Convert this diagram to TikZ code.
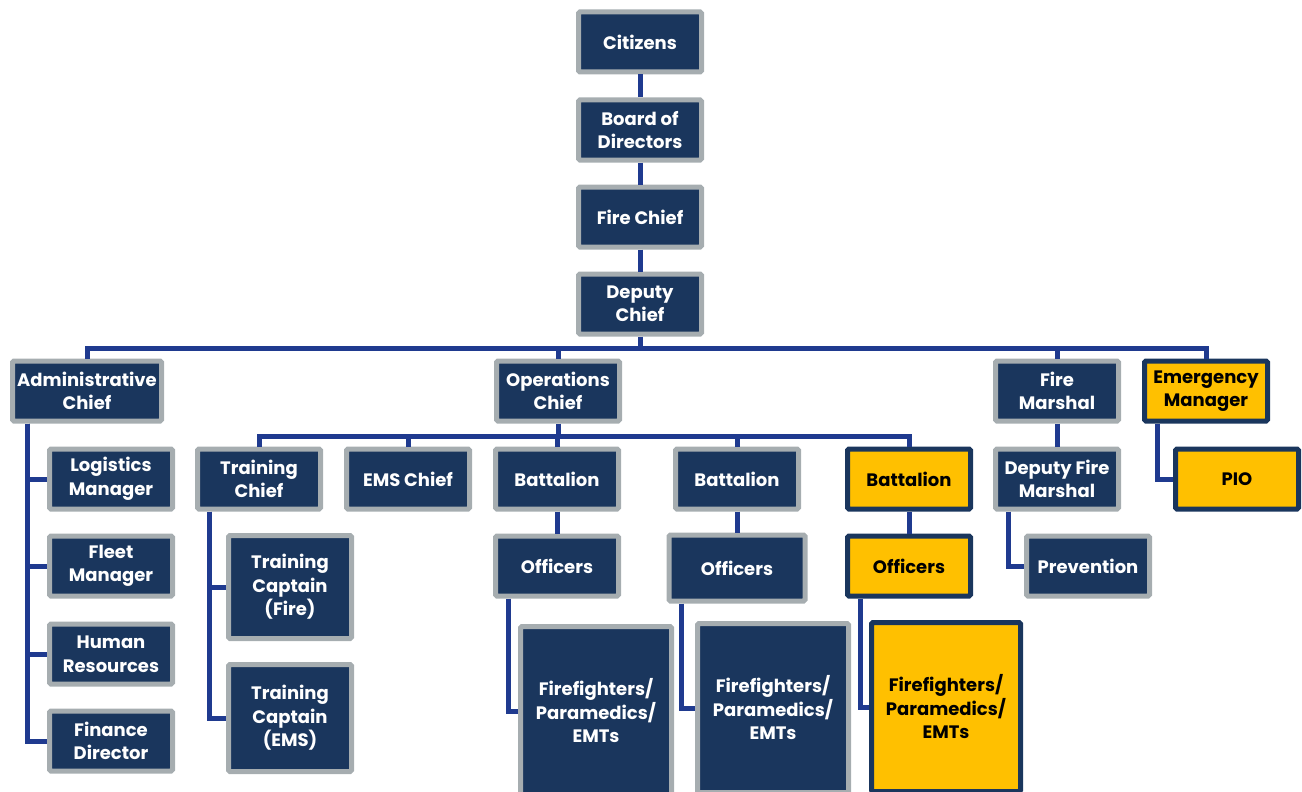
\documentclass[tikz,border=0pt]{standalone}
\usepackage{fontspec}
\setmainfont{Poppins}
\definecolor{navy}{HTML}{1A365D}
\definecolor{frame}{HTML}{A6ADB0}
\definecolor{gold}{HTML}{FFC000}
\definecolor{wire}{HTML}{1F3A8F}
\begin{document}
\begin{tikzpicture}[x=1pt,y=-1pt,
  every node/.style={rectangle,rounded corners=1.5pt,line width=5pt,align=center,
    font=\fontsize{18}{23.5}\selectfont\bfseries,inner sep=0pt,
    minimum width=123,minimum height=60},
  box/.style={fill=navy,draw=frame,text=white},
  goldbox/.style={fill=gold,draw=navy,text=black},
  link/.style={draw=wire,line width=5pt}]
  \useasboundingbox (0,0) rectangle (1302,792);

  % Top chain
  \node[box] (citizens) at (640,42) {Citizens};
  \node[box] (board) at (640,130) {Board of\\Directors};
  \node[box] (chief) at (640,217) {Fire Chief};
  \node[box] (deputy) at (640,304) {Deputy\\Chief};

  % Chiefs
  \node[box,minimum width=149] (admin) at (87,391) {Administrative\\Chief};
  \node[box] (ops) at (558,391) {Operations\\Chief};
  \node[box] (marshal) at (1057,391) {Fire\\Marshal};
  \node[goldbox] (emgr) at (1206,391) {Emergency\\Manager};

  % Administration
  \node[box] (logist) at (111,479) {Logistics\\Manager};
  \node[box] (fleet) at (111,566) {Fleet\\Manager};
  \node[box] (hr) at (111,654) {Human\\Resources};
  \node[box] (finance) at (111,741) {Finance\\Director};

  % Operations
  \node[box] (trchief) at (259,479) {Training\\Chief};
  \node[box] (ems) at (408,479) {EMS Chief};
  \node[box] (bat1) at (557,479) {Battalion};
  \node[box] (bat2) at (737,479) {Battalion};
  \node[goldbox] (bat3) at (909,479) {Battalion};
  \node[box,minimum height=103] (trfire) at (290,587) {Training\\Captain\\(Fire)};
  \node[box,minimum height=107] (trems) at (290,718) {Training\\Captain\\(EMS)};
  \node[box] (off1) at (557,566) {Officers};
  \node[box,minimum width=136,minimum height=66] (off2) at (737,568) {Officers};
  \node[goldbox] (off3) at (909,566) {Officers};
  \node[box,minimum width=151,minimum height=169] (ff1) at (596,711) {Firefighters/\\Paramedics/\\EMTs};
  \node[box,minimum width=151,minimum height=169] (ff2) at (773,708) {Firefighters/\\Paramedics/\\EMTs};
  \node[goldbox,minimum width=149,minimum height=169] (ff3) at (946,707) {Firefighters/\\Paramedics/\\EMTs};

  % Prevention and PIO
  \node[box] (dmarshal) at (1057,479) {Deputy Fire\\Marshal};
  \node[box] (prev) at (1088,566) {Prevention};
  \node[goldbox] (pio) at (1237,479) {PIO};

  % Connectors
  \foreach \from/\to in {citizens/board, board/chief, chief/deputy,
      marshal/dmarshal, bat1/off1, bat2/off2, bat3/off3}
    \draw[link] (\from) -- (\to);

  \coordinate (bus) at (640,348);
  \draw[link] (deputy) -- (bus);
  \foreach \to in {admin, ops, marshal, emgr}
    \draw[link] (bus) -| (\to.north);

  \coordinate (opsbus) at (558,436);
  \draw[link] (ops) -- (opsbus);
  \foreach \to in {trchief, ems, bat1, bat2, bat3}
    \draw[link] (opsbus) -| (\to.north);

  \coordinate (adspine) at ([xshift=17pt]admin.south west);
  \foreach \to in {logist, fleet, hr, finance}
    \draw[link] (adspine) |- (\to.west);

  \coordinate (trspine) at ([xshift=14pt]trchief.south west);
  \foreach \to in {trfire, trems}
    \draw[link] (trspine) |- (\to.west);

  \foreach \from/\to in {off1/ff1, off2/ff2, off3/ff3, dmarshal/prev, emgr/pio}
    \draw[link] ([xshift=15pt]\from.south west) |- (\to.west);
\end{tikzpicture}
\end{document}
